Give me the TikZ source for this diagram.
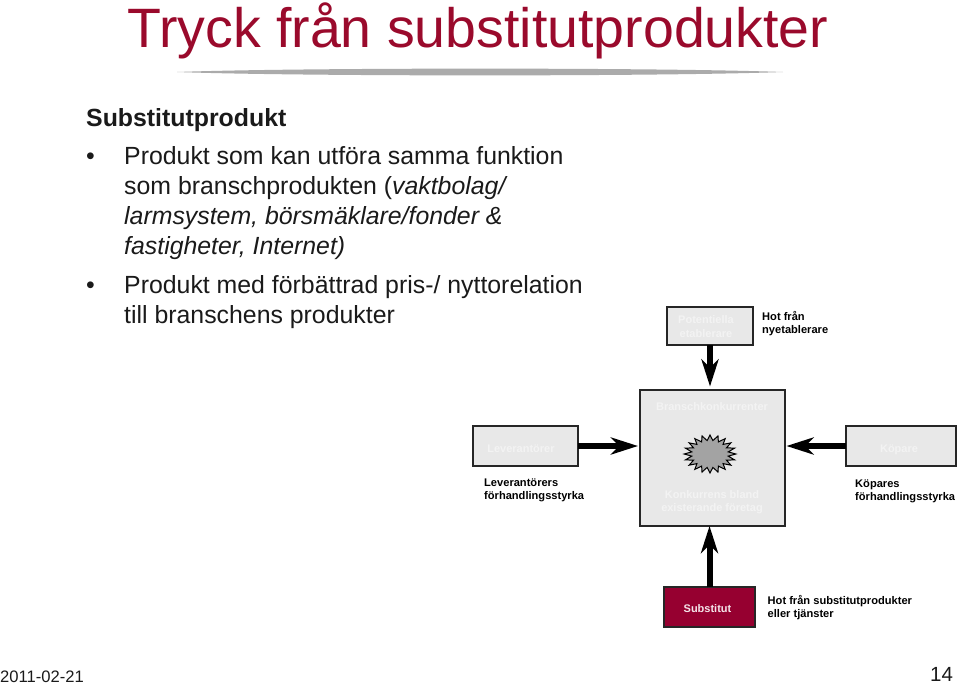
\documentclass[tikz,border=0pt]{standalone}
\usepackage{fontspec}
\setmainfont{Liberation Sans}
\usetikzlibrary{arrows.meta,shapes.geometric}
\definecolor{crim}{HTML}{960030}
\definecolor{titlecol}{HTML}{9A0A2C}
\definecolor{boxgray}{HTML}{E8E8E8}
\definecolor{ghost}{HTML}{F3F3F3}
\definecolor{inktxt}{HTML}{1A1A1A}
\tikzset{
  px/.style={x=1pt,y=-1pt},
  box/.style={draw=black!85,line width=1.5pt,fill=boxgray,inner sep=0pt,outer sep=0pt,anchor=north west},
  redbox/.style={box,fill=crim},
  txt/.style={anchor=base west,inner sep=0pt,text=inktxt},
  bodyfont/.style={font=\fontsize{24.85}{30}\selectfont},
  small/.style={anchor=base west,inner sep=0pt,font=\fontsize{11.1}{13}\selectfont\bfseries,align=left,text=black},
  ghosttxt/.style={anchor=base,inner sep=0pt,font=\fontsize{11}{13.5}\selectfont\bfseries,align=center,text=ghost},
  force/.style={line width=6pt,-{Stealth[length=27pt,width=17pt,inset=8pt]},black},
}
\begin{document}
\begin{tikzpicture}[px]
\useasboundingbox (0,0) rectangle (959,686);
% title
\node[txt,text=titlecol,font=\fontsize{55.5}{56}\selectfont] (title) at (127,47.5) {Tryck från substitutprodukter};
\fill[black!33] (177,72) .. controls (300,67.5) and (660,67.5) .. (783,72) .. controls (660,76.5) and (300,76.5) .. (177,72) -- cycle;
% left text
\node[txt,font=\fontsize{24.85}{30}\selectfont\bfseries] (head) at (86,126) {Substitutprodukt};
\node[txt,bodyfont] (b1) at (86,164) {•};
\node[txt,bodyfont] (l1) at (124,164) {Produkt som kan utföra samma funktion};
\node[txt,bodyfont] (l2) at (124,194) {som branschprodukten (\textit{vaktbolag/}};
\node[txt,font=\fontsize{24.85}{30}\selectfont\itshape] (l3) at (124,224) {larmsystem, börsmäklare/fonder \&};
\node[txt,font=\fontsize{24.85}{30}\selectfont\itshape] (l4) at (124,254) {fastigheter, Internet)};
\node[txt,bodyfont] (b2) at (86,293) {•};
\node[txt,bodyfont] (l5) at (124,293) {Produkt med förbättrad pris-/ nyttorelation};
\node[txt,bodyfont] (l6) at (124,323) {till branschens produkter};
% boxes
\node[box,minimum width=86pt,minimum height=38pt] (pot) at (667,307) {};
\node[box,minimum width=145pt,minimum height=136pt] (bransch) at (640,390) {};
\node[box,minimum width=105pt,minimum height=40pt] (lev) at (473,426) {};
\node[box,minimum width=110pt,minimum height=40pt] (kop) at (846,426) {};
\node[redbox,minimum width=91pt,minimum height=40pt] (sub) at (664,587) {};
% starburst
\node[star,star points=20,star point ratio=1.4,minimum size=38pt,inner sep=0pt,draw=black,line width=1pt,fill=black!36,xscale=1.36,transform shape] (burst) at (710,454) {};
% connectors
\draw[force,shorten >=3.5pt] (pot.south) -- (bransch.north -| pot.south);
\draw[force,shorten >=2pt] (lev.east) -- (lev.east -| bransch.west);
\draw[force,shorten >=1.5pt] (kop.west) -- (kop.west -| bransch.east);
\draw[force,shorten >=0pt] (sub.north) -- (bransch.south -| sub.north);
% labels inside boxes
\node[ghosttxt] (potl) at (706,337) {Potentiella\\etablerare};
\node[ghosttxt] (brl) at (712,410) {Branschkonkurrenter};
\node[ghosttxt] (levl) at (521,452) {Leverantörer};
\node[ghosttxt] (kopl) at (899,452) {Köpare};
\node[ghosttxt] (konk) at (712,511.5) {Konkurrens bland\\existerande företag};
\node[ghosttxt,text=white!90!crim] (subl) at (707.5,612) {Substitut};
% side labels
\node[small] (h1) at (762,333) {Hot från\\nyetablerare};
\node[small] (h2) at (484,499) {Leverantörers\\förhandlingsstyrka};
\node[small] (h3) at (855,500) {Köpares\\förhandlingsstyrka};
\node[small] (h4) at (767.5,617) {Hot från substitutprodukter\\eller tjänster};
% footer
\node[txt,font=\fontsize{16.6}{16}\selectfont] (date) at (0,682) {2011-02-21};
\node[txt,font=\fontsize{20.5}{21}\selectfont] (page) at (930,681) {14};
\end{tikzpicture}
\end{document}
